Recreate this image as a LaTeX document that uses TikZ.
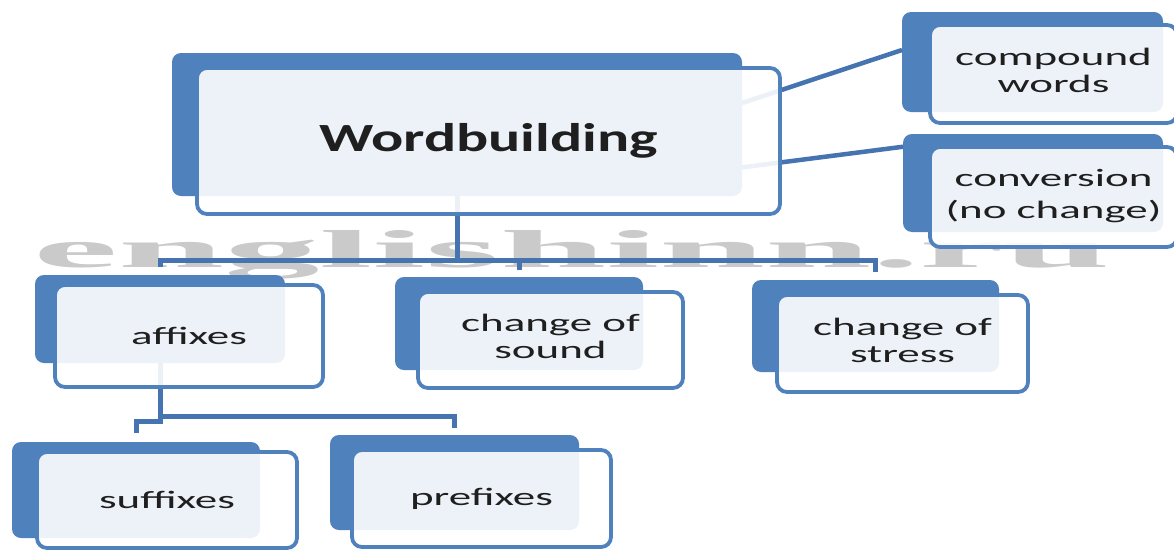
\documentclass[tikz,border=0pt]{standalone}
\usepackage{fontspec}
\usepackage{graphicx}
\usetikzlibrary{calc,fit}
\setmainfont{Carlito}
\newfontfamily\wbsmall[FakeStretch=1.8]{Carlito}
\newfontfamily\wbbig[FakeStretch=1.5]{Carlito}
\newfontfamily\wmfont{Liberation Serif}
\definecolor{wbblue}{HTML}{4F81BD}
\definecolor{wbline}{HTML}{4674B0}
\definecolor{wbmark}{HTML}{CACACA}
\pgfdeclarelayer{wbbg}
\pgfdeclarelayer{wbmid}
\pgfsetlayers{wbbg,wbmid,main}
\tikzset{
  wbback/.style={fill=wbblue, draw=none, rounded corners=9pt, inner sep=0pt, outer sep=0pt},
  wbfront/.style={draw=wbblue, line width=3.8pt, fill=white, fill opacity=0.9, text opacity=1,
    rounded corners=10pt, inner sep=0pt, outer sep=0pt, text=black!88,
    font=\wbsmall\fontsize{25}{27}\selectfont},
  wbmainfront/.style={font=\wbbig\bfseries\fontsize{40}{48}\selectfont},
  wbconn/.style={draw=wbline, line width=5pt},
  wbside/.style={draw=wbline, line width=4.5pt},
}
\newcommand\wbtwo[1]{\begin{tabular}{@{}c@{}}#1\end{tabular}}
% #1 name, #2 front centre, #3 width, #4 height, #5 #6 back corners, #7 text, #8 extra style
\newcommand\wbbox[8]{%
  \begin{pgfonlayer}{wbbg}
    \node[wbback, fit={(#5)(#6)}] (#1B) {};
  \end{pgfonlayer}
  \node[wbfront, minimum width=#3pt, minimum height=#4pt, #8] (#1) at (#2) {#7};
}
\begin{document}
\begin{tikzpicture}[x=1pt,y=-1pt]
\useasboundingbox (0,0) rectangle (1174,549);
\begin{pgfonlayer}{wbbg}
  \fill[white] (0,0) rectangle (1174,549);
  \node[anchor=base west, inner sep=0pt, text=wbmark] (wm) at (33,267)
    {\resizebox{1077pt}{37pt}{\wmfont\bfseries englishinn.ru}};
\end{pgfonlayer}

\wbbox{main}{488.5,141}{583}{146}{172,53}{742,196}{Wordbuilding}{wbmainfront}
\wbbox{cw}{1053.5,74}{247}{98}{902,12}{1163,112}{\wbtwo{compound\\words}}{}
\wbbox{conv}{1053.5,197}{247}{100}{903,134}{1163,232}{\wbtwo{conversion\\[5pt](no change)}}{}
\wbbox{aff}{189,336}{268}{102}{35,275}{285,363}{affixes}{}
\wbbox{snd}{550.5,340}{265}{96}{395,277}{643,370}{\wbtwo{change of\\sound}}{}
\wbbox{str}{902.5,343.5}{251}{97}{752,280}{999,372}{\wbtwo{change of\\stress}}{}
\wbbox{suf}{167,500}{260}{96}{12,442}{260,538}{suffixes}{}
\wbbox{pre}{481.5,498.5}{259}{97}{330,435}{579,530}{prefixes}{}

\coordinate (hubY) at (0,260);
\coordinate (subY) at (0,416);
\coordinate (hub) at (mainB.south |- hubY);
\coordinate (subhub) at (affB.south |- subY);

\begin{pgfonlayer}{wbmid}
  \draw[wbside] ($(mainB.north east)!0.35!(mainB.south east)$) -- ($(cwB.north west)!0.38!(cwB.south west)$);
  \draw[wbside] ($(mainB.north east)!0.80!(mainB.south east)$) -- ($(convB.north west)!0.13!(convB.south west)$);
  \draw[wbconn] (mainB.south) -- (hub);
  \draw[wbconn, shorten <=8pt] (affB.north) |- (hub);
  \draw[wbconn, shorten <=7pt] (sndB.north) |- (hub);
  \draw[wbconn, shorten <=8pt] (strB.north) |- (hub);
  \draw[wbconn] (affB.south) -- (subhub);
  \draw[wbconn, shorten <=7pt] (preB.north) |- (subhub);
  \draw[wbconn, shorten <=9pt] (sufB.north) |- ($(subhub)+(0,5)$) -- (subhub);
\end{pgfonlayer}
\end{tikzpicture}
\end{document}
